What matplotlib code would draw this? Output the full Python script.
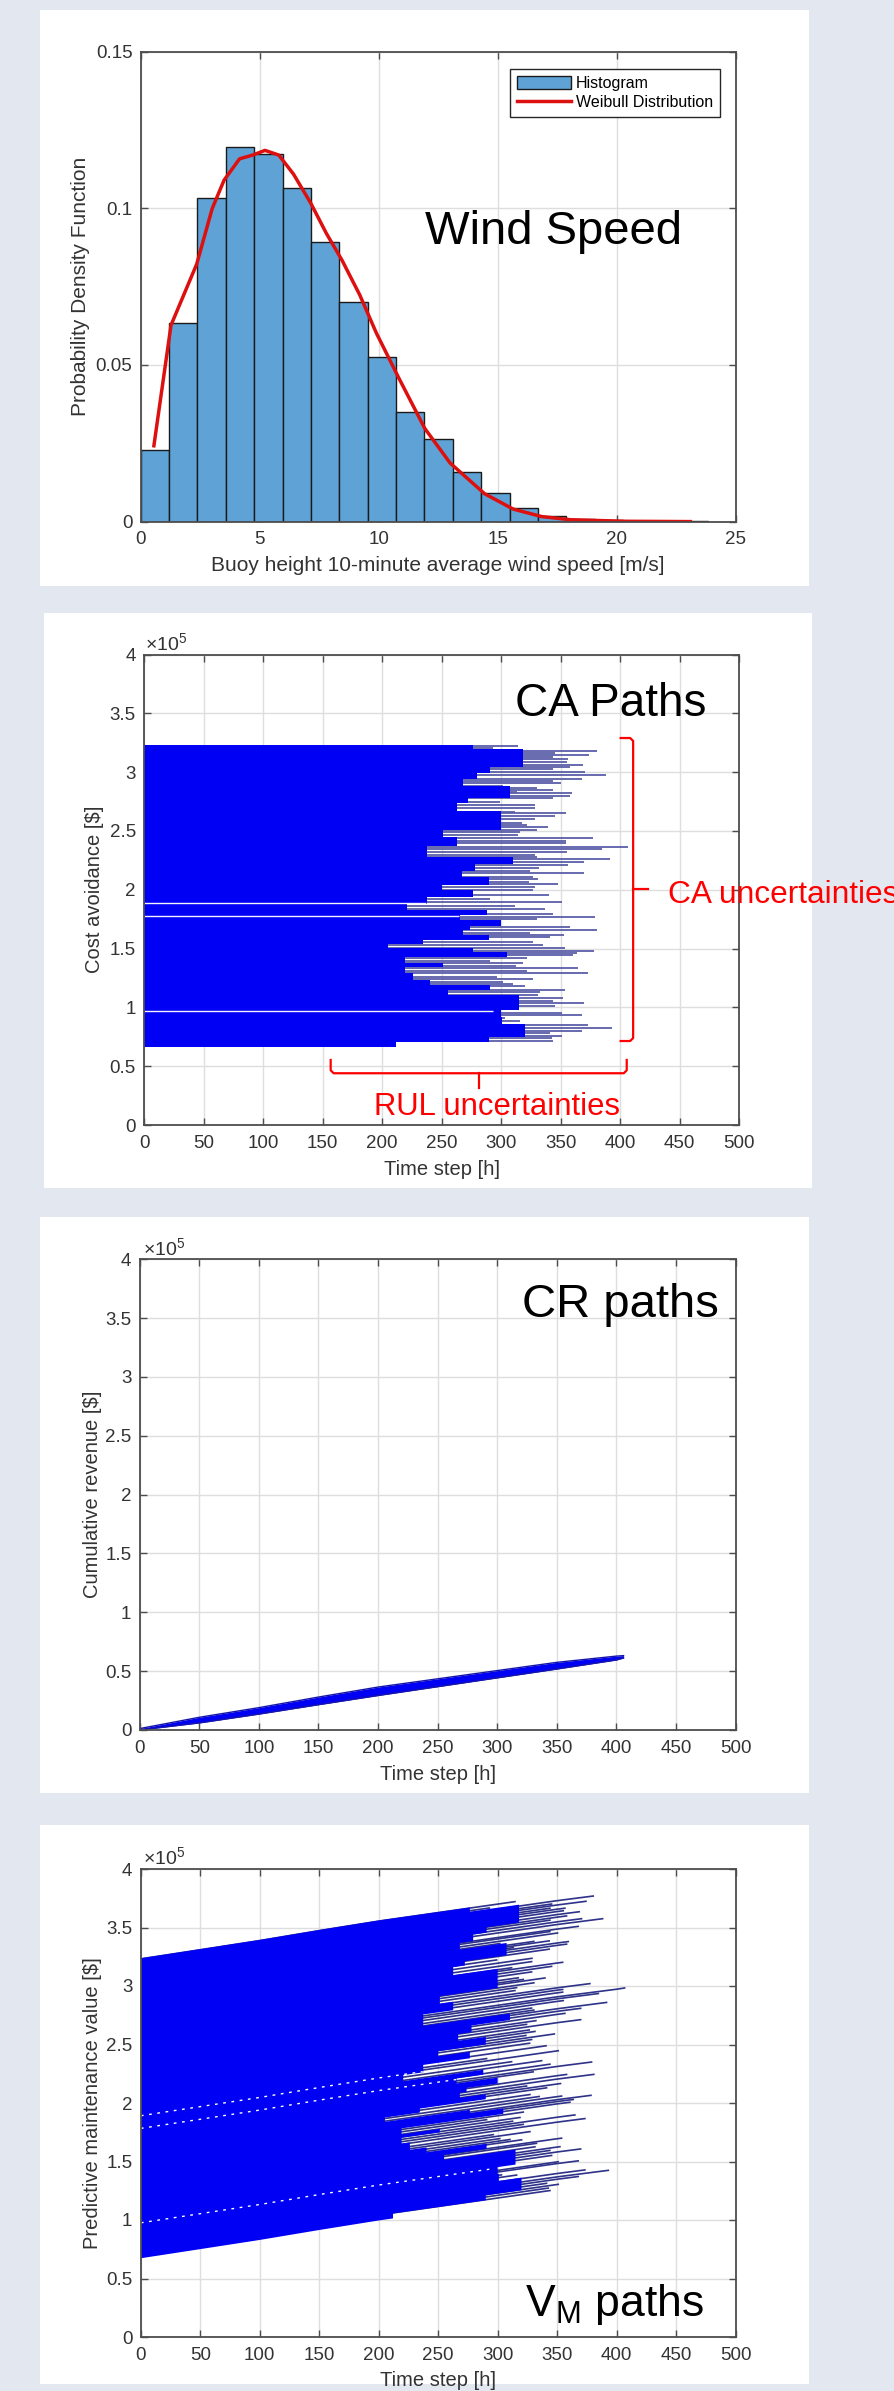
import numpy as np
import matplotlib
matplotlib.use("Agg")
import matplotlib.pyplot as plt
from matplotlib.patches import Rectangle

plt.rcParams['font.family'] = ['Liberation Sans', 'DejaVu Sans']
plt.rcParams['mathtext.fontset'] = 'custom'
plt.rcParams['mathtext.rm'] = 'Liberation Sans'
plt.rcParams['mathtext.it'] = 'Liberation Sans:italic'
plt.rcParams['mathtext.bf'] = 'Liberation Sans:bold'

# ---------------- data ----------------
# Panel 1: wind speed histogram + Weibull fit
hist_edges = [0, 1.19, 2.38, 3.58, 4.77, 5.96, 7.15, 8.34, 9.54, 10.73, 11.92,
              13.11, 14.30, 15.50, 16.69, 17.88, 19.07, 20.26, 21.46, 22.65, 23.84]
hist_density = [0.0228, 0.0635, 0.1033, 0.1197, 0.1175, 0.1065, 0.0892, 0.0700,
                0.0526, 0.0350, 0.0263, 0.0159, 0.0092, 0.0043, 0.0018, 0.0009,
                0.0004, 0.0002, 0.0001, 0.00005]
weibull_x = [0.55, 1.27, 2.35, 3.0, 3.5, 4.15, 4.7, 5.22, 5.8, 6.42, 7.14, 7.8,
             8.46, 9.2, 9.9, 10.86, 11.94, 13.0, 14.45, 15.65, 16.85, 18.05,
             20.4, 23.1]
weibull_pdf = [0.0242, 0.0627, 0.0822, 0.0999, 0.1090, 0.1158, 0.1170, 0.1185,
               0.1170, 0.1109, 0.1017, 0.0920, 0.0834, 0.0724, 0.0602, 0.0456,
               0.0297, 0.0187, 0.0089, 0.0040, 0.0016, 0.0006, 0.0001, 0.0]

# Panel 2: cost-avoidance paths (value in 1e5 $, end of path in h)
ca_path_e5 = [3.226, 3.203, 3.183, 3.161, 3.146, 3.127, 3.110, 3.090, 3.064, 3.042,
              3.025, 3.002, 2.979, 2.940, 2.928, 2.906, 2.886, 2.863, 2.849, 2.835,
              2.821, 2.801, 2.778, 2.750, 2.721, 2.693, 2.665, 2.650, 2.628, 2.605,
              2.571, 2.551, 2.537, 2.509, 2.489, 2.466, 2.438, 2.418, 2.395, 2.361,
              2.344, 2.322, 2.296, 2.276, 2.259, 2.237, 2.211, 2.183, 2.163, 2.140,
              2.112, 2.092, 2.069, 2.047, 2.027, 1.998, 1.956, 1.919, 1.899, 1.862,
              1.834, 1.794, 1.766, 1.749, 1.687, 1.658, 1.636, 1.616, 1.596, 1.559,
              1.531, 1.508, 1.482, 1.466, 1.446, 1.417, 1.397, 1.375, 1.352, 1.332,
              1.312, 1.290, 1.261, 1.242, 1.219, 1.199, 1.182, 1.148, 1.134, 1.106,
              1.077, 1.057, 1.035, 1.012, 0.950, 0.936, 0.907, 0.887, 0.851, 0.822,
              0.802, 0.780, 0.757, 0.737, 0.714]
ca_path_end_h = [314.5, 293.0, 380.3, 345.3, 374.2, 343.9, 356.5, 355.1, 368.5, 357.9,
                 343.9, 370.5, 388.2, 367.7, 343.9, 350.3, 301.8, 330.4, 343.3, 313.1,
                 359.3, 357.9, 343.3, 299.1, 328.8, 328.5, 311.7, 354.6, 345.3, 328.5,
                 317.3, 321.5, 339.7, 330.4, 315.9, 314.5, 377.5, 354.6, 354.6, 406.7,
                 384.6, 355.1, 328.5, 330.4, 391.5, 369.7, 356.5, 332.1, 324.3, 369.7,
                 326.5, 331.3, 323.7, 347.6, 328.5, 326.8, 340.6, 290.7, 350.9, 311.7,
                 336.9, 343.9, 378.9, 329.8, 357.9, 380.8, 324.3, 352.8, 341.1, 327.1,
                 334.9, 353.7, 378.4, 363.5, 360.7, 321.5, 290.7, 318.7, 312.5, 364.9,
                 321.5, 373.3, 296.3, 327.1, 301.8, 310.3, 320.1, 353.7, 332.6, 331.3,
                 352.3, 343.9, 369.7, 345.3, 350.9, 367.7, 303.2, 315.9, 373.3, 393.0,
                 367.7, 341.1, 350.9, 342.5, 343.9]
# dense bundle of paths: upper value of each band (descending) and where it ends
ca_body_top_e5 = [3.231, 3.195, 3.042, 2.996, 2.940, 2.883, 2.778, 2.741, 2.673, 2.509,
                  2.446, 2.373, 2.276, 2.220, 2.163, 2.106, 2.041, 1.998, 1.942, 1.879,
                  1.828, 1.786, 1.743, 1.692, 1.658, 1.616, 1.573, 1.539, 1.502, 1.474,
                  1.426, 1.375, 1.346, 1.296, 1.233, 1.191, 1.148, 1.106, 0.978, 0.921,
                  0.859, 0.751, 0.709]
ca_body_edge_h = [276.6, 318.0, 290.7, 279.4, 268.2, 307.5, 272.4, 262.6, 300.0, 251.4,
                  262.6, 237.4, 310.3, 278.0, 266.8, 290.0, 250.0, 276.6, 237.4, 220.6,
                  287.9, 265.4, 300.0, 273.8, 268.2, 290.0, 234.6, 205.2, 276.6, 304.7,
                  219.2, 251.4, 219.2, 226.2, 240.2, 290.7, 255.0, 315.0, 300.0, 301.0,
                  320.0, 290.0, 212.0]
ca_body_bottom_e5 = 0.667
ca_gap_e5 = [1.885, 1.777, 0.970]
ca_gap_end_h = [237.0, 265.0, 293.0]

# Panel 3: cumulative revenue band (1e5 $)
cr_t_h = [0, 50, 100, 150, 200, 250, 300, 350, 400, 406]
cr_low_e5 = [0.0, 0.060, 0.135, 0.215, 0.293, 0.368, 0.443, 0.518, 0.595, 0.612]
cr_high_e5 = [0.012, 0.108, 0.190, 0.280, 0.365, 0.435, 0.505, 0.575, 0.628, 0.632]

# ---------------- layout helpers ----------------
W, H = 894, 2391
BG = '#e3e7ef'
BLUE = '#0000f5'
fig = plt.figure(figsize=(W / 100, H / 100), dpi=100, facecolor=BG)


def ax_px(x0, y0, x1, y1):
    a = fig.add_axes([x0 / W, 1 - y1 / H, (x1 - x0) / W, (y1 - y0) / H])
    a.set_zorder(2)
    return a


def panel_px(x0, y0, x1, y1):
    fig.patches.append(Rectangle((x0 / W, 1 - y1 / H), (x1 - x0) / W, (y1 - y0) / H,
                                 transform=fig.transFigure, facecolor='white',
                                 edgecolor='none', zorder=-5))


def text_px(x, y, s, **kw):
    return fig.text(x / W, 1 - y / H, s, zorder=10, **kw)


def style(ax, xlabel, ylabel, ylab_x, xlab_dy, lsize=14.5):
    ax.set_facecolor('white')
    ax.grid(True, color='#dedede', lw=1.0)
    ax.set_axisbelow(True)
    for s in ax.spines.values():
        s.set_color('#4d4d4d')
        s.set_linewidth(1.3)
        s.set_zorder(5)
    ax.tick_params(direction='in', length=5, width=1, top=True, right=True,
                   color='#4d4d4d', labelcolor='#333333', labelsize=13.5)
    ax.tick_params(axis='x', pad=7)
    ax.tick_params(axis='y', pad=6)
    ax.set_xlabel(xlabel, fontsize=lsize, color='#333333')
    ax.set_ylabel(ylabel, fontsize=lsize, color='#333333', va='center')
    bb = ax.get_position()
    axw = bb.width * W
    axh = bb.height * H
    ax.yaxis.set_label_coords((ylab_x - bb.x0 * W) / axw, 0.5)
    ax.xaxis.set_label_coords(0.5, -xlab_dy / axh)
    ax.xaxis.label.set_va('center')


panel_px(40, 10, 808.5, 585.5)
panel_px(44, 612.5, 811.5, 1188.3)
panel_px(40, 1217, 808.5, 1793)
panel_px(40, 1825, 808.5, 2384)

# ---------------- Panel 1 ----------------
ax1 = ax_px(140.8, 51.7, 735.6, 521.6)
edges = np.array(hist_edges)
bars = ax1.bar(edges[:-1], hist_density, width=np.diff(edges), align='edge',
               color='#5fa3d6', edgecolor='#1a1a1a', lw=1.0, label='Histogram', zorder=2)
line, = ax1.plot(weibull_x, weibull_pdf, color='#dd1010', lw=2.5,
                 label='Weibull Distribution', zorder=3)
ax1.set_xlim(0, 25)
ax1.set_ylim(0, 0.15)
ax1.set_xticks([0, 5, 10, 15, 20, 25])
ax1.set_yticks([0, 0.05, 0.1, 0.15])
ax1.set_yticklabels(['0', '0.05', '0.1', '0.15'])
style(ax1, 'Buoy height 10-minute average wind speed [m/s]',
      'Probability Density Function', 80, 44, lsize=15)
leg = ax1.legend([bars, line], ['Histogram', 'Weibull Distribution'],
                 loc='upper right', bbox_to_anchor=(0.974, 0.963), borderaxespad=0,
                 fontsize=11.5, fancybox=False, framealpha=1, edgecolor='#262626',
                 handlelength=3.4, handleheight=0.85, handletextpad=0.3,
                 labelspacing=0.25, borderpad=0.45)
leg.get_frame().set_linewidth(1.0)
text_px(424.8, 244.2, 'Wind Speed', fontsize=34, va='baseline', ha='left', color='black')


def exp_label(x, y):
    text_px(x, y, '×10$^{5}$', fontsize=14, color='#333333', va='baseline', ha='left')


def fmt_e5(ax):
    ax.set_xlim(0, 500)
    ax.set_ylim(0, 4)
    ax.set_xticks(np.arange(0, 501, 50))
    ax.set_yticks(np.arange(0, 4.01, 0.5))
    ax.set_yticklabels([f'{v:g}' for v in np.arange(0, 4.01, 0.5)])


# ---------------- Panel 2 ----------------
ax2 = ax_px(144.3, 654.5, 739, 1125)
ax2.hlines(ca_path_e5, 0, ca_path_end_h, colors='#5a5ea8', lw=1.3, zorder=2)
tops = np.array(ca_body_top_e5)[::-1]
edge_h = np.array(ca_body_edge_h)[::-1]
bottoms = np.concatenate([[ca_body_bottom_e5], tops[:-1]])
poly_x = [0.0]
poly_y = [ca_body_bottom_e5]
for b, t, e in zip(bottoms, tops, edge_h):
    poly_x += [e, e]
    poly_y += [b, t]
poly_x.append(0.0)
poly_y.append(tops[-1])
ax2.fill(poly_x, poly_y, color=BLUE, lw=0, zorder=3)
ax2.hlines(ca_gap_e5, 0, ca_gap_end_h, colors='#f4f4ff', lw=1.0, zorder=4)
fmt_e5(ax2)
style(ax2, 'Time step [h]', 'Cost avoidance [$]', 95, 44)
exp_label(145, 650)
text_px(515, 715.7, 'CA Paths', fontsize=33, va='baseline', ha='left')

# braces (annotation)
RED = '#ff0000'
bx, by_top, by_bot, by_mid = 411, 3.29, 0.714, 2.01
ax2.plot([400.5, 408.5, 411, 411, 408.5, 400.5],
         [by_top, by_top, by_top - 0.025, by_bot + 0.025, by_bot, by_bot],
         color=RED, lw=1.6, clip_on=False, zorder=6, solid_joinstyle='round')
ax2.plot([bx, 423.7], [by_mid, by_mid], color=RED, lw=1.6, clip_on=False, zorder=6)
ry, rx0, rx1, rmid = 0.44, 156.7, 405.6, 281.4
ax2.plot([rx0, rx0, rx0 + 2.5, rx1 - 2.5, rx1, rx1],
         [0.553, ry + 0.025, ry, ry, ry + 0.025, 0.553],
         color=RED, lw=1.6, clip_on=False, zorder=6, solid_joinstyle='round')
ax2.plot([rmid, rmid], [ry, 0.315], color=RED, lw=1.6, clip_on=False, zorder=6)
text_px(668, 903, 'CA uncertainties', fontsize=22.8, color=RED, va='baseline', ha='left')
text_px(373.5, 1115, 'RUL uncertainties', fontsize=22.3, color=RED, va='baseline',
        ha='left')

# ---------------- Panel 3 ----------------
ax3 = ax_px(139.7, 1259.3, 735.6, 1730)
ax3.fill_between(cr_t_h, cr_low_e5, cr_high_e5, color=BLUE, lw=0, zorder=3)
ax3.plot(cr_t_h, cr_low_e5, color='#1515a8', lw=1.0, zorder=3)
ax3.plot(cr_t_h, cr_high_e5, color='#1515a8', lw=1.0, zorder=3)
fmt_e5(ax3)
style(ax3, 'Time step [h]', 'Cumulative revenue [$]', 92.7, 44)
exp_label(143, 1255.5)
text_px(521.7, 1316.7, 'CR paths', fontsize=34, va='baseline', ha='left')

# ---------------- Panel 4 ----------------
ax4 = ax_px(140.8, 1869, 735.6, 2337)
cr_mid = (np.array(cr_low_e5) + np.array(cr_high_e5)) / 2


def crm(t):
    return np.interp(t, cr_t_h, cr_mid)


for v, e in zip(ca_path_e5, ca_path_end_h):
    tt = np.linspace(0, e, 60)
    ax4.plot(tt, v + crm(tt), color='#2e3288', lw=1.2, zorder=2)
# shear the bundle polygon of panel 2 by the cumulative revenue
dx, dy = [], []
for i in range(len(poly_x)):
    x0, y0 = poly_x[i], poly_y[i]
    x1, y1 = poly_x[(i + 1) % len(poly_x)], poly_y[(i + 1) % len(poly_y)]
    s = np.linspace(0, 1, 40, endpoint=False)
    dx.extend(x0 + (x1 - x0) * s)
    dy.extend(y0 + (y1 - y0) * s)
dx = np.array(dx)
dy = np.array(dy)
ax4.fill(dx, dy + crm(dx), color=BLUE, lw=0, zorder=3)
for v, e in zip(ca_gap_e5, ca_gap_end_h):
    tt = np.linspace(0, e, 60)
    ax4.plot(tt, v + crm(tt), color='white', lw=1.0, ls=(0, (2, 4)), zorder=4)
fmt_e5(ax4)
style(ax4, 'Time step [h]', 'Predictive maintenance value [$]', 92.7, 43)
exp_label(143, 1864)
text_px(524.6, 2316.4, r'V$_{\mathrm{M}}$ paths', fontsize=32, va='baseline', ha='left')

fig.savefig('out.png', dpi=100, facecolor=BG)
